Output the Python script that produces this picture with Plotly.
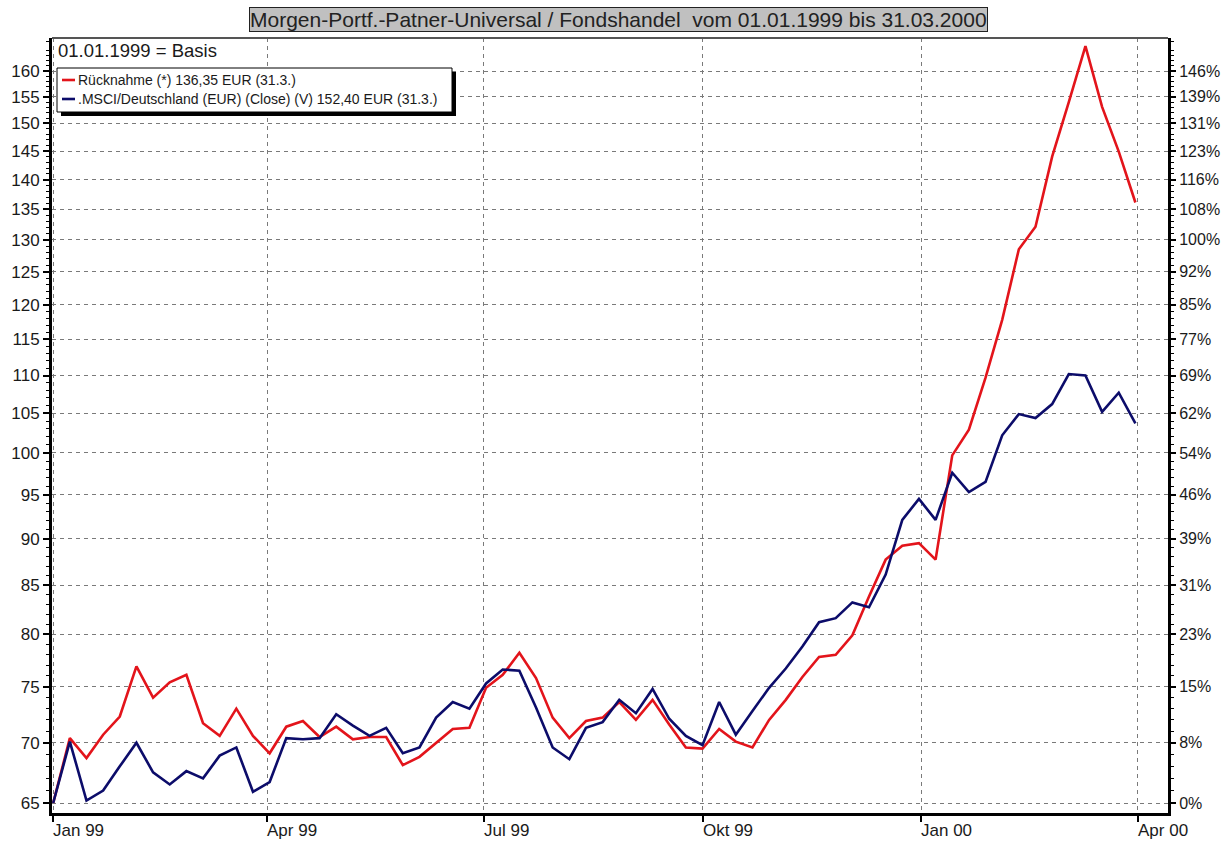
import plotly.graph_objects as go

# ---------------- data ----------------
dates = [
    "1999-01-01", "1999-01-08", "1999-01-15", "1999-01-22", "1999-01-29",
    "1999-02-05", "1999-02-12", "1999-02-19", "1999-02-26",
    "1999-03-05", "1999-03-12", "1999-03-19", "1999-03-26",
    "1999-04-02", "1999-04-09", "1999-04-16", "1999-04-23", "1999-04-30",
    "1999-05-07", "1999-05-14", "1999-05-21", "1999-05-28",
    "1999-06-04", "1999-06-11", "1999-06-18", "1999-06-25",
    "1999-07-02", "1999-07-09", "1999-07-16", "1999-07-23", "1999-07-30",
    "1999-08-06", "1999-08-13", "1999-08-20", "1999-08-27",
    "1999-09-03", "1999-09-10", "1999-09-17", "1999-09-24",
    "1999-10-01", "1999-10-08", "1999-10-15", "1999-10-22", "1999-10-29",
    "1999-11-05", "1999-11-12", "1999-11-19", "1999-11-26",
    "1999-12-03", "1999-12-10", "1999-12-17", "1999-12-24", "1999-12-31",
    "2000-01-07", "2000-01-14", "2000-01-21", "2000-01-28",
    "2000-02-04", "2000-02-11", "2000-02-18", "2000-02-25",
    "2000-03-03", "2000-03-10", "2000-03-17", "2000-03-24", "2000-03-31",
]

ruecknahme = [
    65.0, 70.4, 68.7, 70.7, 72.3, 76.9, 74.0, 75.4, 76.1, 71.7,
    70.6, 73.0, 70.6, 69.1, 71.4, 71.9, 70.5, 71.4, 70.3, 70.5,
    70.5, 68.1, 68.8, 70.0, 71.2, 71.3, 74.9, 76.1, 78.2, 75.8,
    72.2, 70.4, 71.9, 72.2, 73.6, 72.0, 73.8, 71.6, 69.6, 69.5,
    71.2, 70.1, 69.6, 72.0, 73.8, 75.9, 77.8, 78.0, 79.9, 83.8,
    87.7, 89.2, 89.5, 87.7, 99.7, 102.9, 109.7, 117.8, 128.5, 132.1,
    144.0, 154.0, 165.0, 153.1, 144.9, 136.1,
]

msci = [
    65.0, 70.1, 65.2, 66.0, 68.0, 70.0, 67.5, 66.5, 67.6, 67.0,
    68.9, 69.6, 65.9, 66.7, 70.4, 70.3, 70.4, 72.5, 71.5, 70.6,
    71.3, 69.1, 69.6, 72.2, 73.6, 73.0, 75.3, 76.6, 76.5, 73.1,
    69.6, 68.6, 71.3, 71.8, 73.8, 72.6, 74.8, 72.1, 70.6, 69.8,
    73.6, 70.7, 72.8, 74.9, 76.7, 78.8, 81.2, 81.6, 83.2, 82.7,
    86.1, 92.1, 94.5, 92.1, 97.6, 95.3, 96.5, 102.2, 104.9, 104.4,
    106.2, 110.2, 110.0, 105.2, 107.7, 103.7,
]

series_names = [
    "Rücknahme (*) 136,35 EUR (31.3.)",
    ".MSCI/Deutschland (EUR) (Close) (V) 152,40 EUR (31.3.)",
]

y_tickvals = [65, 70, 75, 80, 85, 90, 95, 100, 105, 110, 115, 120, 125,
              130, 135, 140, 145, 150, 155, 160]
y_ticktext_left = [str(v) for v in y_tickvals]
y_ticktext_right = ["0%", "8%", "15%", "23%", "31%", "39%", "46%", "54%",
                    "62%", "69%", "77%", "85%", "92%", "100%", "108%",
                    "116%", "123%", "131%", "139%", "146%"]

x_tickvals = ["1999-01-01", "1999-04-01", "1999-07-01", "1999-10-01",
              "2000-01-01", "2000-04-01"]
x_ticktext = ["Jan 99", "Apr 99", "Jul 99", "Okt 99", "Jan 00", "Apr 00"]

title_text = "Morgen-Portf.-Patner-Universal / Fondshandel \u00a0vom 01.01.1999 bis 31.03.2000"
basis_text = "01.01.1999 = Basis"

# ---------------- styling ----------------
W, H = 1221, 843
PL, PR, PT, PB = 52, 1168, 38, 813  # plot area in pixels
RED = "#e3141b"
NAVY = "#0c0c6a"
FONT = "Liberation Sans, Arial, sans-serif"
GRID = "#7a7a7a"


def px(xp):
    return (xp - PL) / (PR - PL)


def py(yp):
    return (PB - yp) / (PB - PT)


minor_vals = [v for v in range(64, 167) if v % 5 != 0]

fig = go.Figure()
fig.add_trace(go.Scatter(x=dates, y=ruecknahme, mode="lines", name=series_names[0],
                         line=dict(color=RED, width=2.6), showlegend=False))
fig.add_trace(go.Scatter(x=dates, y=msci, mode="lines", name=series_names[1],
                         line=dict(color=NAVY, width=2.6), showlegend=False))
# transparent helper trace so the right-hand axis is drawn
fig.add_trace(go.Scatter(x=dates, y=ruecknahme, yaxis="y2", mode="lines",
                         line=dict(color="rgba(0,0,0,0)", width=0),
                         hoverinfo="skip", showlegend=False))

yrange = [1.80757, 2.22178]

fig.update_layout(
    width=W, height=H,
    margin=dict(l=PL, r=W - PR, t=PT, b=H - PB, autoexpand=False),
    paper_bgcolor="white", plot_bgcolor="white",
    font=dict(family=FONT, color="#1a1a1a"),
    xaxis=dict(
        type="date", automargin=False,
        range=["1998-12-31 12:00", "2000-04-13 17:00"],
        tickmode="array", tickvals=x_tickvals, ticktext=x_ticktext,
        showticklabels=False,
        ticks="outside", ticklen=6, tickwidth=1.5, tickcolor="black",
        showline=True, linecolor="black", linewidth=3,
        showgrid=True, gridcolor=GRID, gridwidth=1, griddash="4px,4px",
        zeroline=False,
    ),
    yaxis=dict(
        type="log", range=yrange, automargin=False,
        tickmode="array", tickvals=y_tickvals, ticktext=y_ticktext_left,
        tickfont=dict(size=17, family=FONT, color="#1a1a1a"),
        ticks="outside", ticklen=6, tickwidth=1.5, tickcolor="black",
        showline=True, linecolor="black", linewidth=3,
        showgrid=True, gridcolor=GRID, gridwidth=1, griddash="4px,4px",
        zeroline=False,
        minor=dict(tickmode="array", tickvals=minor_vals, ticks="outside",
                   ticklen=3, tickcolor="black", tickwidth=1, showgrid=False),
    ),
    yaxis2=dict(
        type="log", range=yrange, overlaying="y", side="right", automargin=False,
        tickmode="array", tickvals=y_tickvals, ticktext=y_ticktext_right,
        tickfont=dict(size=16, family=FONT, color="#1a1a1a"),
        ticks="outside", ticklen=5, tickwidth=1.5, tickcolor="black",
        showline=True, linecolor="black", linewidth=3,
        showgrid=False, zeroline=False,
        minor=dict(tickmode="array", tickvals=minor_vals, ticks="outside",
                   ticklen=3, tickcolor="black", tickwidth=1, showgrid=False),
    ),
)

shapes = [
    # top frame line
    dict(type="line", xref="paper", yref="paper", x0=0, x1=1, y0=1, y1=1,
         line=dict(color="#555555", width=2)),
    # legend shadow
    dict(type="rect", xref="paper", yref="paper",
         x0=px(61), x1=px(456), y0=py(116), y1=py(72),
         fillcolor="black", line=dict(width=0)),
    # legend box
    dict(type="rect", xref="paper", yref="paper",
         x0=px(57), x1=px(452), y0=py(112), y1=py(68),
         fillcolor="white", line=dict(color="black", width=1)),
    # legend samples
    dict(type="line", xref="paper", yref="paper",
         x0=px(62), x1=px(75), y0=py(80), y1=py(80),
         line=dict(color=RED, width=2.6)),
    dict(type="line", xref="paper", yref="paper",
         x0=px(62), x1=px(75), y0=py(99), y1=py(99),
         line=dict(color=NAVY, width=2.6)),
]
fig.update_layout(shapes=shapes)

annotations = [
    dict(text=title_text, xref="paper", yref="paper", x=px(618), y=py(19),
         xanchor="center", yanchor="middle", showarrow=False,
         font=dict(size=21, family=FONT, color="#222222"),
         bgcolor="#c0c0c0", bordercolor="#222222", borderwidth=1, borderpad=0),
    dict(text=basis_text, xref="paper", yref="paper", x=px(56), y=py(51),
         xanchor="left", yanchor="middle", showarrow=False,
         font=dict(size=18.5, family=FONT, color="#1a1a1a")),
    dict(text=series_names[0], xref="paper", yref="paper", x=px(76), y=py(80),
         xanchor="left", yanchor="middle", showarrow=False,
         font=dict(size=14, family=FONT, color="#1a1a1a")),
    dict(text=series_names[1], xref="paper", yref="paper", x=px(76), y=py(99),
         xanchor="left", yanchor="middle", showarrow=False,
         font=dict(size=14, family=FONT, color="#1a1a1a")),
]
# x-axis month labels, placed just under the axis at each tick date
for tv, tt in zip(x_tickvals, x_ticktext):
    annotations.append(dict(
        text=tt, xref="x", yref="paper", x=tv, y=py(830),
        xanchor="left", yanchor="middle", showarrow=False, xshift=-2,
        font=dict(size=17, family=FONT, color="#1a1a1a")))
fig.update_layout(annotations=annotations)

fig.write_html(
    "out.html",
    config={"displayModeBar": False},
    post_script="document.body.style.margin='0';document.body.style.overflow='hidden';",
)
